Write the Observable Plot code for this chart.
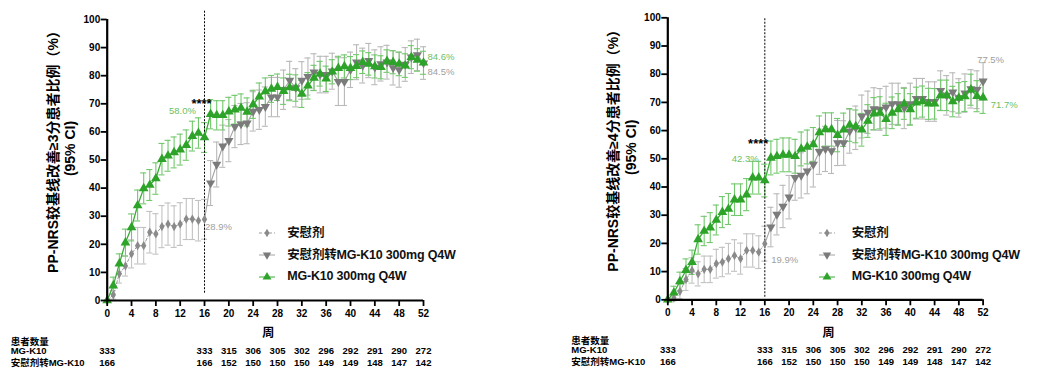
<!DOCTYPE html>
<html><head><meta charset="utf-8">
<script src="https://cdn.jsdelivr.net/npm/d3@7"></script>
<script src="https://cdn.jsdelivr.net/npm/@observablehq/plot@0.6"></script>
<style>
body{margin:0;background:#fff;}
#wrap{display:flex;width:1038px;height:376px;overflow:hidden;}
.panel{position:relative;width:519px;height:376px;}
.panel svg.chart{position:absolute;left:0;top:0;}
.lg{position:absolute;font-family:"Liberation Sans","Noto Sans CJK SC",sans-serif;font-weight:bold;font-size:12.5px;letter-spacing:-0.2px;color:#111;white-space:nowrap;line-height:14px;}
.lgs{position:absolute;}
</style></head><body>
<div id="wrap"><div class="panel" id="p1"></div><div class="panel" id="p2"></div></div>
<script>
// ---------- data ----------
const weeks = d3.range(0, 53);
const tableWeeks = [0,16,20,24,28,32,36,40,44,48,52];
const nMG = [333,333,315,306,305,302,296,292,291,290,272];
const nSwitch = [166,166,152,150,150,150,149,149,148,147,142];
const seriesNames = ["安慰剂","安慰剂转MG-K10 300mg Q4W","MG-K10 300mg Q4W"];
const tableLabels = ["患者数量","MG-K10","安慰剂转MG-K10"];
const xTitle = "周";
const yTitle3 = "PP-NRS较基线改善≥3分患者比例（%）\n(95% CI)";
const yTitle4 = "PP-NRS较基线改善≥4分患者比例（%）\n(95% CI)";
const sigLabel = "****";

// Panel A (>=3 points): weeks 0-52 MG-K10, weeks 0-16 placebo, weeks 17-52 switch
const mg3 = [0,5.3,13.1,20.6,26.0,33.8,39.9,41.1,43.4,50.3,51.5,52.7,53.7,55.3,58.5,59.6,58.0,
  66.3,65.9,65.9,67.2,67.9,68.5,67.1,69.8,72.5,74.4,75.3,75.9,74.5,75.8,75.6,73.5,76.4,79.2,80.7,78.9,
  81.4,82.7,83.3,82.7,83.4,84.8,84.2,83.3,83.0,85.2,84.8,84.2,83.6,86.6,85.6,84.6];
const pbo3 = [0,2.0,9.5,12.3,16.6,19.5,19.5,24.3,23.7,26.3,27.2,26.3,27.2,29.0,29.0,28.4,28.9];
const sw3 = [41.8,48.4,54.9,56.9,61.9,62.8,63.1,67.3,67.9,69.0,72.4,72.4,75.0,78.3,75.7,78.3,79.7,81.3,
  80.4,80.4,81.6,77.9,77.9,82.1,84.8,83.6,85.4,83.0,84.2,84.8,82.8,82.1,84.0,86.6,87.4,84.5];
const eMg3 = [0,3,3.5,4.8,4.8,5.5,5.5,5.5,5.6,5.6,5.5,5.5,5.5,5.4,5.3,5.4,5.3,
  5.2,5.2,5.2,5.1,5.1,5.0,5.0,5.0,4.9,4.8,4.8,4.7,4.7,4.7,4.7,4.8,4.7,4.5,4.4,4.5,
  4.3,4.2,4.1,4.1,4.1,4.0,4.0,4.1,4.1,4.0,4.1,4.2,4.2,4.1,4.0,4.1];
const ePbo3 = [0,1.5,3.3,3.6,5,6.5,6.5,7.4,7.2,7.5,7.5,7.4,7.6,7.3,7.3,7.2,7.1];
const eSw3 = [8,8,7.5,7.5,7.5,7.3,7.3,7,7,7,7,7,7,6.8,6.8,6.7,6.6,6.5,6.5,6.5,6.4,8.5,8.5,6.3,6.2,
  6.2,6.1,6.2,6.1,6.0,6.1,6.2,6.0,5.8,5.6,5.8];

// Panel B (>=4 points)
const mg4 = [0,2.5,6.5,10.5,13.3,21.4,24.4,25.6,28.3,31.1,32.2,35.5,35.5,37.3,43.3,43.3,42.3,
  50.3,50.9,51.4,51.4,50.9,53.5,54.2,55.1,59.3,60.4,60.4,58.4,60.3,62.0,61.5,60.3,63.4,66.0,66.3,64.0,
  66.3,67.5,69.5,67.5,69.9,70.3,69.5,69.5,72.5,72.5,70.3,71.6,72.1,74.5,72.2,71.7];
const pbo4 = [0,0.6,3.0,7.2,10.4,9.2,10.8,10.8,12.8,13.4,14.6,15.7,14.6,17.5,17.5,16.9,19.9];
const sw4 = [25.8,30.3,33.1,36.4,43.3,44.1,45.6,48.0,52.5,53.5,52.8,55.6,55.6,59.8,61.0,65.0,66.5,67.7,
  67.5,68.3,69.5,69.5,68.0,69.5,71.3,71.3,70.3,70.3,74.2,72.5,73.6,71.6,73.3,74.8,74.5,77.5];
const eMg4 = [0,2.3,3.3,4,4.3,5.2,5.2,5.3,5.3,5.5,5.5,5.6,5.6,5.7,5.8,5.8,5.8,
  6.0,6.0,6.0,6.0,6.0,6.0,6.0,6.0,5.9,5.9,5.9,5.9,5.9,5.8,5.8,5.8,5.8,5.7,5.7,5.7,
  5.6,5.6,5.5,5.6,5.5,5.5,5.5,5.4,5.4,5.4,5.4,5.4,5.3,5.5,5.5,5.6];
const ePbo4 = [0,1,2.6,3.9,4.5,4.3,4.7,4.7,5.1,5.2,5.4,5.6,5.5,5.9,5.9,5.8,6.2];
const eSw4 = [7.0,7.3,7.5,7.7,8.0,8.0,8.0,8.0,8.0,8.0,8.0,8.0,7.9,7.8,7.7,7.6,7.5,7.5,7.4,7.4,7.3,7.3,
  7.3,7.3,7.2,7.2,7.0,7.0,7.0,7.0,6.9,6.8,6.8,6.8,6.7,6.6];

// ---------- styles ----------
const FONT = '"Liberation Sans","Noto Sans CJK SC",Arial,sans-serif';
const C = {
  green: "#2ea32a", greenLine: "#3aab36", greenErr: "#72c86c", greenLabel: "#6cbf63",
  tri: "#7b7b7b", triLine: "#a3a3a3", triErr: "#b9b9b9", triLabel: "#a0a0a0",
  pbo: "#8a8a8a", pboLine: "#9a9a9a", pboErr: "#c2c2c2"
};
const triDown = {
  draw(ctx, size) {
    const y = -Math.sqrt(size / (Math.sqrt(3) * 3));
    const s = Math.sqrt(3);
    ctx.moveTo(0, -y * 2); ctx.lineTo(-s * y, y); ctx.lineTo(s * y, y); ctx.closePath();
  }
};

function errMarks(rows, stroke) {
  const r = rows.filter(d => d.e > 0);
  const o = {stroke, strokeWidth: 1.1};
  return [
    Plot.ruleX(r, {x: "w", y1: d => d.v - d.e, y2: d => d.v + d.e, ...o}),
    Plot.ruleY(r, {y: d => d.v - d.e, x1: d => d.w - 0.5, x2: d => d.w + 0.5, ...o}),
    Plot.ruleY(r, {y: d => d.v + d.e, x1: d => d.w - 0.5, x2: d => d.w + 0.5, ...o})
  ];
}

function makePanel(cfg) {
  const mgRows = weeks.map((w, i) => ({w, v: cfg.mg[i], e: cfg.eMg[i]}));
  const pboRows = cfg.pbo.map((v, i) => ({w: weeks[i], v, e: cfg.ePbo[i]}));
  const swRows = cfg.sw.map((v, i) => ({w: weeks[17 + i], v, e: cfg.eSw[i]}));
  const swLine = [pboRows[16], ...swRows];
  const tbl = tableWeeks.map((w, i) => ({w, a: nMG[i], b: nSwitch[i]}));
  const fmt = d => d3.format(".1f")(d.v) + "%";
  const last = a => [a[a.length - 1]];
  const A = cfg.anno;
  const tb = {fontSize: 9.5, fontWeight: "bold", fill: "#000", lineAnchor: "middle"};

  const chart = Plot.plot({
    width: 519, height: 376,
    marginLeft: cfg.ml, marginRight: cfg.mr, marginTop: cfg.mt, marginBottom: cfg.mb,
    x: {domain: [0, 52]}, y: {domain: [0, 100]},
    style: {fontFamily: FONT, fontSize: "10px", color: "#000", background: "#fff", overflow: "visible"},
    marks: [
      ...errMarks(pboRows, C.pboErr),
      ...errMarks(swRows, C.triErr),
      ...errMarks(mgRows, C.greenErr),
      Plot.ruleX([16], {y1: cfg.vl[0], y2: cfg.vl[1], stroke: "#000", strokeWidth: 1, strokeDasharray: "2,1.5"}),
      Plot.line(pboRows, {x: "w", y: "v", stroke: C.pboLine, strokeWidth: 1, strokeDasharray: "3,2"}),
      Plot.line(swLine, {x: "w", y: "v", stroke: C.triLine, strokeWidth: 1.1}),
      Plot.line(mgRows, {x: "w", y: "v", stroke: C.greenLine, strokeWidth: 1.3}),
      Plot.dot(pboRows, {x: "w", y: "v", symbol: "diamond", r: 2.8, fill: C.pbo, stroke: "none"}),
      Plot.dot(swRows, {x: "w", y: "v", symbol: triDown, r: 3.4, fill: C.tri, stroke: "none"}),
      Plot.dot(mgRows, {x: "w", y: "v", symbol: "triangle", r: 3.6, fill: C.green, stroke: "none"}),
      Plot.ruleX([0], {stroke: "#000", strokeWidth: 2.2}),
      Plot.ruleY([0], {stroke: "#000", strokeWidth: 2.2}),
      Plot.axisY({ticks: d3.range(0, 101, 10), tickSize: 6, tickPadding: 1, fontWeight: "bold", fontSize: 10, strokeWidth: 1.8, label: null}),
      Plot.axisX({ticks: d3.range(0, 53, 4), tickSize: 6, tickPadding: 3, fontWeight: "bold", fontSize: 10, strokeWidth: 1.8, label: null}),
      // y title
      Plot.text([cfg.yTitle], {frameAnchor: "left", dx: -46.4, dy: -11.5, rotate: -90, lineHeight: 1.24,
        textAnchor: "middle", lineAnchor: "middle", fontSize: 14, fontWeight: "bold", fill: "#000"}),
      // annotations attached to data points
      Plot.text([mgRows[16]], {x: "w", y: "v", text: () => sigLabel, dx: A.sig[0], dy: A.sig[1], fontSize: 13, fontWeight: "bold", fill: "#000"}),
      Plot.text([mgRows[16]], {x: "w", y: "v", text: fmt, dx: A.mg16[0], dy: A.mg16[1], fontSize: 9.5, fill: C.greenLabel}),
      Plot.text([pboRows[16]], {x: "w", y: "v", text: fmt, dx: A.pbo16[0], dy: A.pbo16[1], textAnchor: "start", fontSize: 9.5, fill: C.triLabel}),
      Plot.text(last(mgRows), {x: "w", y: "v", text: fmt, dx: A.mg52[0], dy: A.mg52[1], textAnchor: "start", fontSize: 9.5, fill: C.greenLabel}),
      Plot.text(last(swRows), {x: "w", y: "v", text: fmt, dx: A.sw52[0], dy: A.sw52[1], textAnchor: "start", fontSize: 9.5, fill: C.triLabel}),
      // x title and at-risk table
      Plot.text([xTitle], {frameAnchor: "bottom", dx: 3, dy: 33, fontSize: 12, fontWeight: "bold", fill: "#000", lineAnchor: "middle"}),
      Plot.text([tableLabels[0]], {frameAnchor: "bottom-left", dx: -96.5, dy: 41, textAnchor: "start", ...tb}),
      Plot.text([tableLabels[1]], {frameAnchor: "bottom-left", dx: -96.5, dy: 50.5, textAnchor: "start", ...tb}),
      Plot.text([tableLabels[2]], {frameAnchor: "bottom-left", dx: -96.5, dy: 62, textAnchor: "start", ...tb}),
      Plot.text(tbl, {x: "w", text: "a", frameAnchor: "bottom", dy: 50.5, ...tb}),
      Plot.text(tbl, {x: "w", text: "b", frameAnchor: "bottom", dy: 62, ...tb})
    ]
  });
  chart.classList.add("chart");
  const host = document.getElementById(cfg.id);
  host.appendChild(chart);

  // legend
  const rowsY = [233.3, 255, 276.7];
  const sym = [
    {color: C.pbo, line: C.pboLine, dash: "3,2", type: d3.symbolDiamond, size: 22, rot: 0},
    {color: C.tri, line: C.triLine, dash: null, type: d3.symbolTriangle, size: 30, rot: 180},
    {color: C.green, line: C.greenLine, dash: null, type: d3.symbolTriangle, size: 34, rot: 0}
  ];
  seriesNames.forEach((name, i) => {
    const s = d3.select(host).append("svg").attr("class", "lgs")
      .attr("width", 20).attr("height", 12)
      .style("left", (cfg.lgSym - 10) + "px").style("top", (rowsY[i] - 6) + "px");
    s.append("line").attr("x1", 2).attr("x2", 18).attr("y1", 6).attr("y2", 6)
      .attr("stroke", sym[i].line).attr("stroke-width", 1).attr("stroke-dasharray", sym[i].dash);
    s.append("path").attr("d", d3.symbol(sym[i].type, sym[i].size)())
      .attr("transform", `translate(10,6) rotate(${sym[i].rot})`).attr("fill", sym[i].color);
    d3.select(host).append("div").attr("class", "lg")
      .style("left", cfg.lgText + "px").style("top", (rowsY[i] - 7.5) + "px").text(name);
  });
}

makePanel({
  id: "p1", mg: mg3, pbo: pbo3, sw: sw3, eMg: eMg3, ePbo: ePbo3, eSw: eSw3,
  ml: 106.7, mr: 96, mt: 19, mb: 76, yTitle: yTitle3, vl: [2.6, 103.2],
  anno: {sig: [-3, -34], mg16: [-22, -27], pbo16: [0.5, 8], mg52: [4, -6], sw52: [4, 8.5]},
  lgSym: 267, lgText: 287.3
});
makePanel({
  id: "p2", mg: mg4, pbo: pbo4, sw: sw4, eMg: eMg4, ePbo: ePbo4, eSw: eSw4,
  ml: 148.3, mr: 55.4, mt: 17.3, mb: 76.7, yTitle: yTitle4, vl: [0.9, 100],
  anno: {sig: [-6.6, -37], mg16: [-19.6, -22], pbo16: [6.4, 16], mg52: [7.7, 7], sw52: [-6, -21.5]},
  lgSym: 308, lgText: 332.7
});
</script>
</body></html>
